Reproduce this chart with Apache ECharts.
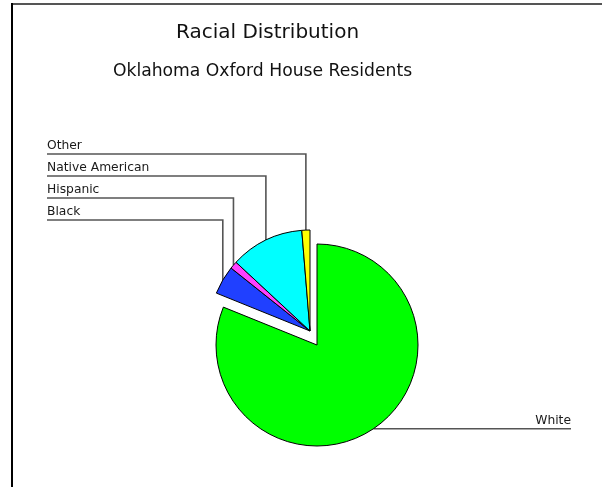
<!DOCTYPE html>
<html><head><meta charset="utf-8">
<script src="https://cdn.jsdelivr.net/npm/echarts@6/dist/echarts.min.js"></script>
<style>html,body{margin:0;padding:0;background:#fff}#c{width:602px;height:487px}</style>
</head><body><div id="c"></div>
<script>
const categories = ['White', 'Black', 'Hispanic', 'Native American', 'Other'];
const values = [81.2, 4.6, 1.2, 11.8, 1.3];
const colors = ['#00ff00', '#2040ff', '#ff40ff', '#00ffff', '#ffff00'];
const titleText = 'Racial Distribution';
const subtitleText = 'Oklahoma Oxford House Residents';

const chart = echarts.init(document.getElementById('c'), null, { renderer: 'canvas' });
const R = 101;
const font = 'DejaVu Sans';
const leftLabelX = 47, topLineY = 154, lineStep = 22;
const rightLabelX = 571;
const othersSum = values.slice(1).reduce((a, b) => a + b, 0);
const hiddenStyle = {
  itemStyle: { color: 'transparent', borderWidth: 0 },
  label: { show: false }, labelLine: { show: false },
  emphasis: { disabled: true }, tooltip: { show: false }
};

const mainData = [
  { name: categories[0], value: values[0], itemStyle: { color: colors[0] } },
  Object.assign({ name: '_rest', value: othersSum }, hiddenStyle)
];
const restData = [Object.assign({ name: '_main', value: values[0] }, hiddenStyle)].concat(
  categories.slice(1).map((c, i) => ({ name: c, value: values[i + 1], itemStyle: { color: colors[i + 1] } }))
);

const common = {
  type: 'pie', radius: R, startAngle: 90, clockwise: true,
  avoidLabelOverlap: false, animation: false, minAngle: 0,
  itemStyle: { borderColor: '#000', borderWidth: 1 },
  label: { show: true, position: 'outside', fontFamily: font, fontSize: 12.3, color: '#1a1a1a', formatter: '{b}' },
  labelLine: { show: true, length: 10, length2: 10, lineStyle: { color: '#555', width: 1.6 } },
  emphasis: { disabled: true }
};

chart.setOption({
  backgroundColor: '#fff',
  title: [
    { text: titleText, left: 262.5, top: 18, textAlign: 'center', textStyle: { fontFamily: font, fontSize: 20, fontWeight: 'normal', color: '#111' } },
    { text: subtitleText, left: 257.5, top: 58.5, textAlign: 'center', textStyle: { fontFamily: font, fontSize: 17.2, fontWeight: 'normal', color: '#111' } }
  ],
  graphic: [
    { type: 'line', shape: { x1: 11, y1: 4, x2: 602, y2: 4 }, style: { stroke: '#555', lineWidth: 2 } },
    { type: 'line', shape: { x1: 12, y1: 3, x2: 12, y2: 487 }, style: { stroke: '#000', lineWidth: 2 } }
  ],
  series: [
    Object.assign({}, common, {
      center: [317, 345],
      data: mainData,
      labelLayout: function (params) {
        const p = params.labelLinePoints;
        if (!p) return {};
        const y = p[0][1];
        return {
          x: rightLabelX, y: y - 2, align: 'right', verticalAlign: 'bottom',
          labelLinePoints: [p[0], [(p[0][0] + rightLabelX) / 2, y], [rightLabelX, y]]
        };
      }
    }),
    Object.assign({}, common, {
      center: [310, 331],
      data: restData,
      labelLayout: function (params) {
        const p = params.labelLinePoints;
        if (!p) return {};
        const k = categories.length - 1 - params.dataIndex;
        const y = topLineY + k * lineStep;
        return {
          x: leftLabelX, y: y - 2, align: 'left', verticalAlign: 'bottom',
          labelLinePoints: [p[0], [p[0][0], y], [leftLabelX, y]]
        };
      }
    })
  ]
});
</script></body></html>
